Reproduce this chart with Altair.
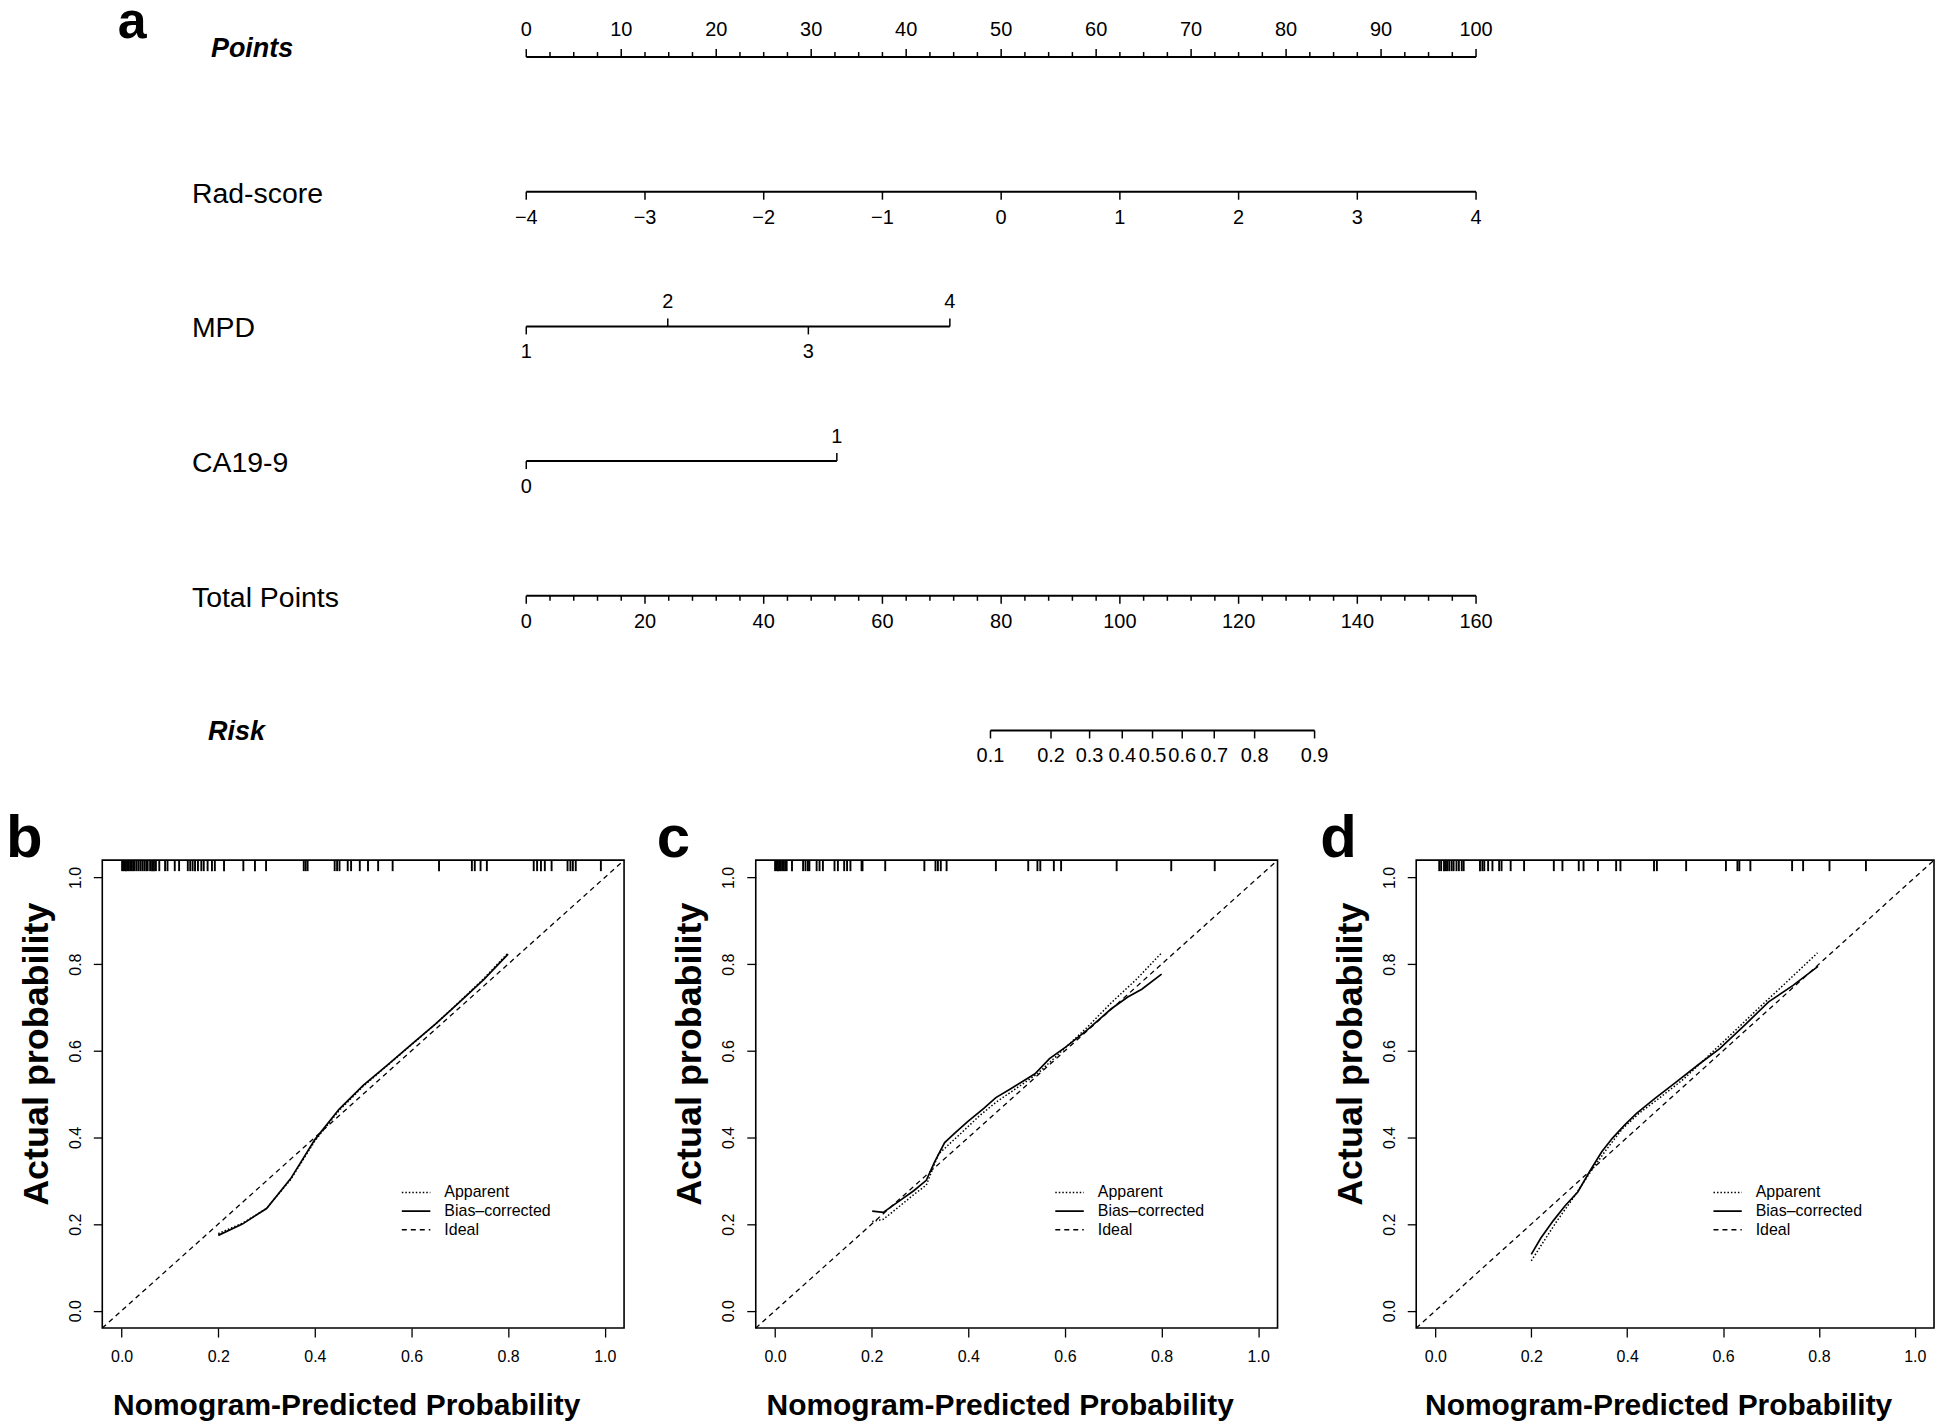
import altair as alt
import pandas as pd

FONT = "Liberation Sans"

# ---------------- panel a : nomogram ----------------
row_names = ["Points", "Rad-score", "MPD", "CA19-9", "Total Points", "Risk"]

points_major = [0, 10, 20, 30, 40, 50, 60, 70, 80, 90, 100]
points_minor_step = 2.5
rad_labels = ["−4", "−3", "−2", "−1", "0", "1", "2", "3", "4"]
rad_points = [0, 12.5, 25, 37.5, 50, 62.5, 75, 87.5, 100]
mpd_labels = ["1", "2", "3", "4"]
mpd_points = [0, 14.9, 29.7, 44.6]
ca_labels = ["0", "1"]
ca_points = [0, 32.7]
total_major = [0, 20, 40, 60, 80, 100, 120, 140, 160]
total_minor_step = 4
risk_labels = ["0.1", "0.2", "0.3", "0.4", "0.5", "0.6", "0.7", "0.8", "0.9"]
risk_total = [78.2, 88.4, 94.9, 100.4, 105.5, 110.5, 115.9, 122.7, 132.8]

# ---------------- panels b, c, d : calibration curves ----------------
b_rug = [0.001, 0.004, 0.006, 0.009, 0.012, 0.015, 0.018, 0.021, 0.024, 0.027, 0.031,
         0.035, 0.039, 0.043, 0.047, 0.051, 0.054, 0.059, 0.063, 0.067, 0.071, 0.078,
         0.090, 0.095, 0.110, 0.119, 0.137, 0.142, 0.147, 0.152, 0.158, 0.165, 0.170,
         0.178, 0.187, 0.193, 0.212, 0.252, 0.276, 0.299, 0.377, 0.381, 0.385, 0.441,
         0.446, 0.451, 0.468, 0.475, 0.493, 0.510, 0.531, 0.561, 0.657, 0.725, 0.731,
         0.743, 0.756, 0.853, 0.860, 0.868, 0.876, 0.890, 0.923, 0.929, 0.934, 0.940, 0.992]
b_app_x = [0.20, 0.25, 0.30, 0.35, 0.40, 0.45, 0.50, 0.55, 0.60, 0.65, 0.70, 0.75, 0.80]
b_app_y = [0.178, 0.202, 0.236, 0.303, 0.392, 0.462, 0.518, 0.566, 0.614, 0.662, 0.714, 0.767, 0.826]
b_bias_x = [0.20, 0.25, 0.30, 0.35, 0.40, 0.45, 0.50, 0.55, 0.60, 0.65, 0.70, 0.75, 0.80]
b_bias_y = [0.174, 0.200, 0.236, 0.305, 0.395, 0.465, 0.520, 0.567, 0.615, 0.662, 0.713, 0.765, 0.823]

c_rug = [0.000, 0.003, 0.006, 0.009, 0.012, 0.015, 0.018, 0.021, 0.024, 0.035, 0.058,
         0.063, 0.068, 0.071, 0.086, 0.092, 0.099, 0.123, 0.130, 0.143, 0.149, 0.156,
         0.179, 0.181, 0.228, 0.309, 0.332, 0.337, 0.343, 0.355, 0.457, 0.524, 0.543,
         0.549, 0.577, 0.592, 0.707, 0.820, 0.910]
c_app_x = [0.201, 0.224, 0.253, 0.287, 0.313, 0.338, 0.355, 0.389, 0.423, 0.457, 0.491,
           0.543, 0.594, 0.645, 0.696, 0.747, 0.800]
c_app_y = [0.206, 0.211, 0.237, 0.268, 0.290, 0.361, 0.379, 0.414, 0.450, 0.481, 0.507,
           0.547, 0.600, 0.653, 0.711, 0.764, 0.826]
c_bias_x = [0.201, 0.224, 0.253, 0.287, 0.313, 0.330, 0.351, 0.372, 0.398, 0.432, 0.457,
            0.487, 0.538, 0.568, 0.602, 0.645, 0.696, 0.730, 0.759, 0.800]
c_bias_y = [0.230, 0.227, 0.250, 0.277, 0.301, 0.343, 0.388, 0.410, 0.436, 0.467, 0.492,
            0.512, 0.547, 0.582, 0.609, 0.647, 0.697, 0.724, 0.742, 0.777]

d_rug = [0.008, 0.012, 0.018, 0.022, 0.025, 0.029, 0.034, 0.038, 0.044, 0.049, 0.055,
         0.059, 0.093, 0.098, 0.102, 0.110, 0.119, 0.133, 0.138, 0.157, 0.185, 0.247,
         0.265, 0.299, 0.309, 0.339, 0.377, 0.386, 0.456, 0.462, 0.523, 0.606, 0.630,
         0.634, 0.657, 0.744, 0.767, 0.822, 0.898]
d_app_x = [0.20, 0.220, 0.254, 0.288, 0.322, 0.356, 0.390, 0.424, 0.466, 0.517, 0.568,
           0.619, 0.669, 0.729, 0.797]
d_app_y = [0.115, 0.150, 0.208, 0.261, 0.318, 0.371, 0.420, 0.455, 0.490, 0.534, 0.587,
           0.640, 0.693, 0.755, 0.826]
d_bias_x = [0.20, 0.220, 0.246, 0.271, 0.297, 0.322, 0.347, 0.369, 0.394, 0.419, 0.458,
            0.500, 0.551, 0.593, 0.644, 0.695, 0.746, 0.798]
d_bias_y = [0.130, 0.168, 0.208, 0.243, 0.274, 0.322, 0.367, 0.398, 0.428, 0.455, 0.490,
            0.526, 0.570, 0.605, 0.658, 0.713, 0.751, 0.795]

legend_labels = ["Apparent", "Bias–corrected", "Ideal"]
axis_values = [0.0, 0.2, 0.4, 0.6, 0.8, 1.0]

# =====================================================================
# layout (pixels)
PANEL_H = 469
W_B, W_C, W_D = 523, 523, 519
SP_BC, SP_CD = 132, 139
NOMO_W = W_B + W_C + W_D + SP_BC + SP_CD
NOMO_H = 675
PX_PER_POINT = 9.52
NOMO_LEFT = -44.64

# Nomogram tables
K = points_major[-1] / total_major[-1]          # total points -> points

lines_df = pd.DataFrame({
    "row": [0, 1, 2, 3, 4, 5],
    "x": [points_major[0], rad_points[0], mpd_points[0], ca_points[0],
          total_major[0] * K, risk_total[0] * K],
    "x2": [points_major[-1], rad_points[-1], mpd_points[-1], ca_points[-1],
           total_major[-1] * K, risk_total[-1] * K],
})

ticks, labels = [], []
n_minor = int(points_major[-1] / points_minor_step)
for i in range(n_minor + 1):
    v = i * points_minor_step
    ticks.append({"x": v, "row": 0, "dir": "up",
                  "kind": "major" if v in points_major else "minor"})
for v in points_major:
    labels.append({"x": v, "row": 0, "text": str(v), "side": "top"})
for p, t in zip(rad_points, rad_labels):
    ticks.append({"x": p, "row": 1, "dir": "down", "kind": "major"})
    labels.append({"x": p, "row": 1, "text": t, "side": "below"})
for i, (p, t) in enumerate(zip(mpd_points, mpd_labels)):
    side = "below" if i % 2 == 0 else "above"
    ticks.append({"x": p, "row": 2, "dir": "down" if side == "below" else "up", "kind": "major"})
    labels.append({"x": p, "row": 2, "text": t, "side": side})
for i, (p, t) in enumerate(zip(ca_points, ca_labels)):
    side = "below" if i % 2 == 0 else "above"
    ticks.append({"x": p, "row": 3, "dir": "down" if side == "below" else "up", "kind": "major"})
    labels.append({"x": p, "row": 3, "text": t, "side": side})
for v in range(0, total_major[-1] + 1, total_minor_step):
    ticks.append({"x": v * K, "row": 4, "dir": "down",
                  "kind": "major" if v in total_major else "minor"})
for v in total_major:
    labels.append({"x": v * K, "row": 4, "text": str(v), "side": "below"})
for r, t in zip(risk_total, risk_labels):
    ticks.append({"x": r * K, "row": 5, "dir": "down", "kind": "major"})
    labels.append({"x": r * K, "row": 5, "text": t, "side": "below"})
ticks_df = pd.DataFrame(ticks)
labels_df = pd.DataFrame(labels)

name_x = {"Points": -33.2, "Risk": -33.5}
names_df = pd.DataFrame({"name": row_names, "row": list(range(len(row_names)))})
names_df["x"] = [name_x.get(n, -35.2) for n in row_names]

NX = alt.Scale(domain=[NOMO_LEFT, NOMO_LEFT + NOMO_W / PX_PER_POINT], nice=False, zero=False)
NY = alt.Scale(domain=[0, 5], reverse=True, nice=False, zero=False)


def nx():
    return alt.X("x:Q", scale=NX, axis=None)


def ny():
    return alt.Y("row:Q", scale=NY, axis=None)


nomo_layers = [
    alt.Chart(lines_df).mark_rule(color="black", strokeWidth=2).encode(
        x=nx(), x2=alt.X2("x2"), y=ny())
]
for d, sign in [("up", -1), ("down", 1)]:
    for kind, length in [("major", 8), ("minor", 5)]:
        nomo_layers.append(
            alt.Chart(ticks_df)
            .transform_filter(f"datum.dir == '{d}' && datum.kind == '{kind}'")
            .mark_rule(color="black", strokeWidth=1.5, y2Offset=sign * length)
            .encode(x=nx(), y=ny(), y2=alt.Y2("row"))
        )
for side, dy in [("top", -27), ("above", -24), ("below", 26)]:
    nomo_layers.append(
        alt.Chart(labels_df).transform_filter(f"datum.side == '{side}'")
        .mark_text(fontSize=20, baseline="middle", dy=dy, color="black")
        .encode(x=nx(), y=ny(), text="text:N"))
nomo_layers.append(
    alt.Chart(names_df).transform_filter("datum.name != 'Points' && datum.name != 'Risk'")
    .mark_text(fontSize=28.5, align="left", baseline="middle", dy=2, color="black")
    .encode(x=nx(), y=ny(), text="name:N"))
nomo_layers.append(
    alt.Chart(names_df).transform_filter("datum.name == 'Points'")
    .mark_text(fontSize=27, align="left", baseline="alphabetic", fontStyle="italic",
               fontWeight="bold", color="black")
    .encode(x=nx(), y=ny(), text="name:N"))
nomo_layers.append(
    alt.Chart(names_df).transform_filter("datum.name == 'Risk'")
    .mark_text(fontSize=27, align="left", baseline="middle", dy=2, fontStyle="italic",
               fontWeight="bold", color="black")
    .encode(x=nx(), y=ny(), text="name:N"))
nomo_layers.append(
    alt.Chart(pd.DataFrame({"x": [-43.0], "row": [-0.144], "t": ["a"]}))
    .mark_text(fontSize=52, align="left", baseline="alphabetic", fontWeight="bold",
               color="black")
    .encode(x=nx(), y=ny(), text="t:N"))

nomo = alt.layer(*nomo_layers).properties(
    width=NOMO_W, height=NOMO_H, view=alt.ViewBackground(strokeOpacity=0))

# =====================================================================
PS = alt.Scale(domain=[-0.04, 1.04], nice=False, zero=False)


def panel(letter, letter_x, rug, app_x, app_y, bias_x, bias_y, width):
    xax = alt.Axis(values=axis_values, format=".1f", title="Nomogram-Predicted Probability",
                   labelFontSize=16, tickSize=9, tickWidth=1.3, labelPadding=12,
                   titleFontSize=30, titleFontWeight="bold", titleX=width / 2 - 17,
                   titleY=87, titleAlign="center", titleBaseline="alphabetic")
    yax = alt.Axis(values=axis_values, format=".1f", title="Actual probability",
                   labelAngle=-90, labelAlign="center", labelBaseline="bottom",
                   labelFontSize=16, tickSize=9, tickWidth=1.3, labelPadding=10,
                   titleFontSize=36, titleFontWeight="bold", titleX=-66, titleY=194,
                   titleAngle=270, titleAlign="center", titleBaseline="middle")
    X = alt.X("x:Q", scale=PS, axis=xax)
    Y = alt.Y("y:Q", scale=PS, axis=yax)

    rug_df = pd.DataFrame({"x": rug})
    rug_df["y"] = PS.domain[1]
    ideal_df = pd.DataFrame({"x": PS.domain, "y": PS.domain})
    app_df = pd.DataFrame({"x": app_x, "y": app_y})
    bias_df = pd.DataFrame({"x": bias_x, "y": bias_y})
    leg_df = pd.DataFrame({"label": legend_labels, "y": [0.273, 0.230, 0.187]})
    leg_df["x"] = 0.58
    leg_df["x2"] = 0.639
    leg_df["tx"] = 0.668
    let_df = pd.DataFrame({"x": [letter_x], "y": [1.048], "t": [letter]})

    layers = [
        alt.Chart(ideal_df).mark_line(color="black", strokeWidth=1.3, strokeDash=[5, 4])
        .encode(x=X, y=Y),
        alt.Chart(rug_df).mark_rule(color="black", strokeWidth=1.9, y2Offset=11)
        .encode(x=X, y=Y, y2=alt.Y2("y")),
        alt.Chart(app_df).mark_line(color="black", strokeWidth=1.5, strokeDash=[1.5, 2])
        .encode(x=X, y=Y),
        alt.Chart(bias_df).mark_line(color="black", strokeWidth=1.7).encode(x=X, y=Y),
    ]
    dashes = {"Apparent": [1.5, 2], "Bias–corrected": [1, 0], "Ideal": [5, 4]}
    for lab in legend_labels:
        layers.append(
            alt.Chart(leg_df).transform_filter(alt.datum.label == lab)
            .mark_rule(color="black", strokeWidth=1.6, strokeDash=dashes[lab])
            .encode(x=X, x2=alt.X2("x2"), y=Y))
    layers.append(
        alt.Chart(leg_df).mark_text(align="left", baseline="middle", fontSize=16,
                                    color="black")
        .encode(x=alt.X("tx:Q", scale=PS, axis=xax), y=Y, text="label:N"))
    layers.append(
        alt.Chart(let_df).mark_text(align="left", baseline="alphabetic", fontSize=60,
                                    fontWeight="bold", color="black")
        .encode(x=X, y=Y, text="t:N"))
    return alt.layer(*layers).properties(width=width, height=PANEL_H)


pb = panel("b", -0.2393, b_rug, b_app_x, b_app_y, b_bias_x, b_bias_y, W_B)
pc = panel("c", -0.245, c_rug, c_app_x, c_app_y, c_bias_x, c_bias_y, W_C)
pd_ = panel("d", -0.24, d_rug, d_app_x, d_app_y, d_bias_x, d_bias_y, W_D)

bottom = alt.hconcat(pb, alt.hconcat(pc, pd_, spacing=SP_CD, bounds="flush"),
                     spacing=SP_BC, bounds="flush")

chart = (
    alt.vconcat(nomo, bottom, spacing=130, bounds="flush")
    .properties(padding={"left": -3.5, "top": -14.5, "right": 0, "bottom": 0})
    .configure_view(stroke="black", strokeWidth=1.6)
    .configure_axis(labelFont=FONT, titleFont=FONT, domain=False, grid=False,
                    tickColor="black", labelColor="black", titleColor="black")
    .configure_text(font=FONT)
)

chart.save("out.html", embed_options={"renderer": "svg", "actions": False})
